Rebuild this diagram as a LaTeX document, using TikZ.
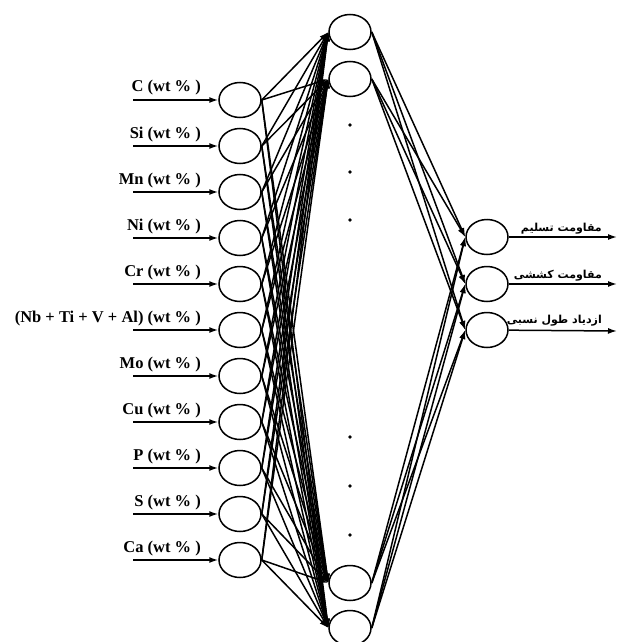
\documentclass[tikz,border=0pt]{standalone}
\usepackage{fontspec}
\setmainfont{Liberation Serif}
\newfontfamily\farsifont[Script=Arabic]{DejaVu Sans}
\TeXXeTstate=1
\usetikzlibrary{arrows.meta,shapes.geometric}
\tikzset{
  neuron/.style={draw, ellipse, line width=1.5pt, minimum width=42pt, minimum height=35pt, inner sep=0pt},
  link/.style={line width=1.5pt, -{Latex[length=9pt,width=6pt]}},
  inlabel/.style={anchor=base east, inner sep=0pt, font=\bfseries\fontsize{16.5}{18}\selectfont},
  outlabel/.style={anchor=base east, inner sep=0pt, font=\farsifont\bfseries\fontsize{11}{13}\selectfont}
}
\begin{document}
\begin{tikzpicture}[x=1pt,y=-1pt]
  \clip (0,0) rectangle (617,642);
  % input layer
  \foreach \t [count=\i] in {C, Si, Mn, Ni, Cr, {(Nb + Ti + V + Al)}, Mo, Cu, P, S, Ca}{
    \node[neuron] (i\i) at (240,{54+46*\i}) {};
    \coordinate (s\i) at (133,{54+46*\i});
    \node[inlabel] (l\i) at (201,{46+46*\i}) {\t{} (wt \% )};
    \draw[link] (s\i) -- (i\i);
  }
  % hidden layer
  \node[neuron] (h1) at (350,32) {};
  \node[neuron] (h2) at (350,79) {};
  \node[neuron] (h3) at (350,583) {};
  \node[neuron] (h4) at (350,628) {};
  \foreach \y [count=\k] in {125,172,220,437,486,535}
    \fill (350,\y) circle (1.8pt) coordinate (d\k);
  % output layer
  \node[neuron] (o1) at (487,237) {};
  \node[neuron] (o2) at (487,284) {};
  \node[neuron] (o3) at (487,330) {};
  \foreach \j in {1,2,3}{
    \coordinate (e\j) at (617,{190+47*\j});
    \draw[link] (o\j) -- (e\j);
  }
  \node[outlabel] (t1) at (602,231) {\beginR مقاومت تسلیم\endR};
  \node[outlabel] (t2) at (602,278) {\beginR مقاومت کششی\endR};
  \node[outlabel] (t3) at (602,323) {\beginR ازدیاد طول نسبی\endR};
  % connections
  \begin{scope}[link]
    \foreach \i in {1,...,11}
      \foreach \h in {1,...,4}
        \draw (i\i.east) -- (h\h.west);
    \foreach \h in {1,...,4}
      \foreach \j in {1,2,3}
        \draw (h\h.east) -- (o\j.west);
  \end{scope}
\end{tikzpicture}
\end{document}
